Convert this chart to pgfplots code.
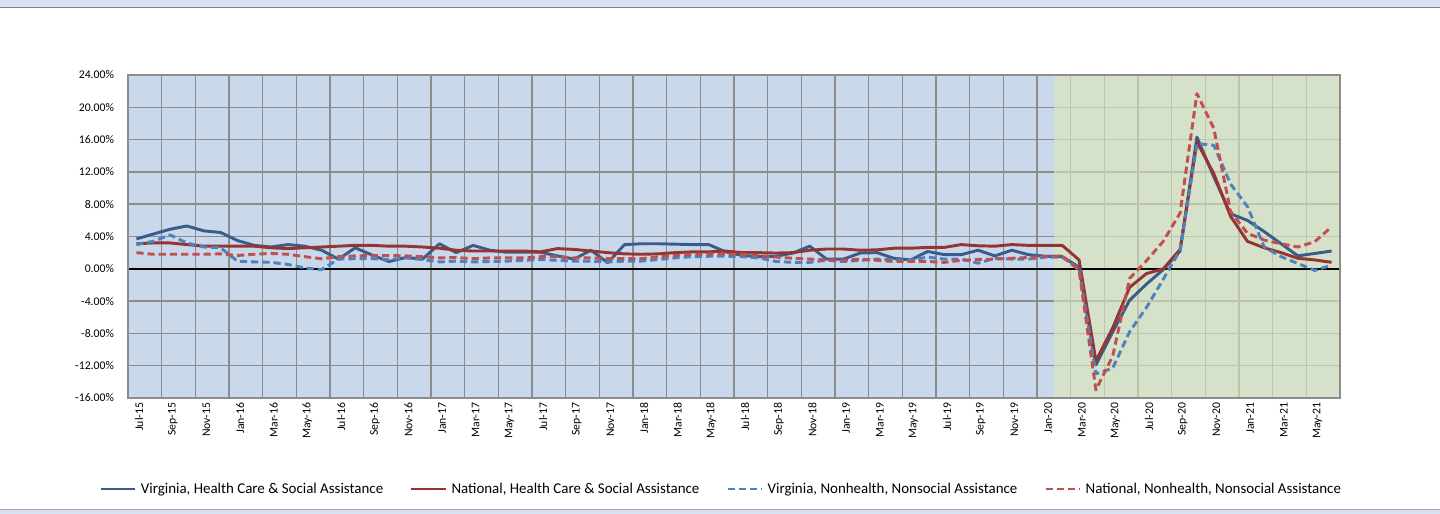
\documentclass[border=0pt]{standalone}
\usepackage{pgfplots}
\pgfplotsset{compat=1.18}
\usepackage{pgfplotstable}
\usepackage{fontspec}
\setmainfont{Carlito}
\definecolor{bgblue}{RGB}{202,216,235}
\definecolor{bggreen}{RGB}{214,225,201}
\definecolor{gridgray}{RGB}{140,140,140}
\definecolor{gridgreen}{RGB}{188,196,170}
\definecolor{vahc}{RGB}{56,93,138}
\definecolor{nathc}{RGB}{150,52,50}
\definecolor{vanh}{RGB}{79,129,189}
\definecolor{natnh}{RGB}{192,80,77}
\definecolor{topstrip}{RGB}{214,226,240}
\definecolor{stripline}{RGB}{130,130,140}

\pgfplotstableread{
k vahc nathc vanh natnh
0 3.7 3.1 3.0 2.0
1 4.3 3.2 3.4 1.8
2 4.9 3.2 4.2 1.8
3 5.3 3.0 3.2 1.8
4 4.7 2.8 2.7 1.8
5 4.5 2.8 2.6 1.85
6 3.5 2.8 0.95 1.65
7 2.9 2.8 0.85 1.8
8 2.7 2.6 0.8 1.9
9 3.0 2.5 0.55 1.8
10 2.8 2.6 0.1 1.5
11 2.3 2.7 -0.1 1.25
12 1.2 2.8 1.2 1.5
13 2.6 2.9 1.25 1.6
14 1.7 2.9 1.25 1.65
15 0.9 2.8 1.15 1.65
16 1.4 2.8 1.35 1.6
17 1.2 2.7 1.15 1.5
18 3.1 2.55 0.85 1.35
19 2.0 2.3 0.95 1.4
20 2.9 2.2 0.85 1.25
21 2.3 2.2 0.9 1.35
22 2.05 2.2 0.95 1.35
23 2.05 2.2 1.05 1.35
24 2.05 2.1 1.15 1.5
25 1.6 2.5 1.05 1.5
26 1.2 2.4 0.95 1.35
27 2.3 2.2 0.95 1.35
28 0.75 2.0 0.85 1.25
29 3.0 1.85 0.95 1.25
30 3.1 1.8 0.95 1.25
31 3.1 1.85 1.15 1.5
32 3.05 2.0 1.35 1.65
33 3.0 2.1 1.5 1.8
34 3.0 2.1 1.55 1.85
35 2.1 2.2 1.55 1.8
36 1.65 2.0 1.5 1.8
37 1.5 2.0 1.35 1.65
38 1.55 1.95 0.9 1.45
39 1.95 2.0 0.8 1.3
40 2.8 2.3 0.8 1.2
41 1.2 2.45 1.05 1.1
42 1.2 2.45 0.9 1.05
43 1.95 2.3 1.05 1.2
44 2.0 2.35 1.2 1.05
45 1.3 2.55 1.1 0.9
46 1.1 2.55 1.05 0.9
47 2.15 2.65 1.45 0.9
48 1.75 2.65 1.2 0.8
49 1.75 3.0 1.2 1.05
50 2.3 2.85 0.7 1.15
51 1.6 2.8 1.3 1.2
52 2.3 3.0 1.2 1.3
53 1.75 2.9 1.2 1.4
54 1.55 2.9 1.45 1.55
55 1.5 2.9 1.45 1.6
56 0.2 1.1 0.0 -0.2
57 -11.9 -11.4 -13.0 -15.0
58 -7.8 -7.3 -12.3 -10.8
59 -3.9 -2.3 -7.8 -1.2
60 -1.9 -0.6 -4.8 1.0
61 -0.1 0.0 -1.3 3.4
62 2.2 2.4 2.3 6.9
63 16.3 15.7 15.5 21.7
64 11.4 11.8 15.3 17.4
65 6.8 6.5 10.5 7.1
66 6.0 3.4 7.7 4.4
67 4.6 2.6 2.7 3.55
68 3.1 2.0 1.5 3.1
69 1.6 1.3 0.66 2.7
70 1.9 1.1 -0.2 3.35
71 2.2 0.8 0.45 5.2
}\datatable

\begin{document}
\begin{tikzpicture}
\useasboundingbox (0pt,0pt) rectangle (1080pt,385.5pt);
\fill[topstrip] (0pt,380.25pt) rectangle (1080pt,385.5pt);
\draw[stripline, line width=1.2pt] (0pt,379.9pt) -- (1080pt,379.9pt);
\fill[topstrip] (0pt,0pt) rectangle (1080pt,3pt);
\draw[stripline!70, line width=1pt] (0pt,3.4pt) -- (1080pt,3.4pt);
\begin{axis}[
  at={(96pt,87pt)}, anchor=south west,
  scale only axis, width=909pt, height=242.25pt,
  xmin=-0.5, xmax=71.5, ymin=-16, ymax=24,
  xtick={0,2,...,70},
  xticklabels={Jul-15,Sep-15,Nov-15,Jan-16,Mar-16,May-16,Jul-16,Sep-16,Nov-16,Jan-17,Mar-17,May-17,Jul-17,Sep-17,Nov-17,Jan-18,Mar-18,May-18,Jul-18,Sep-18,Nov-18,Jan-19,Mar-19,May-19,Jul-19,Sep-19,Nov-19,Jan-20,Mar-20,May-20,Jul-20,Sep-20,Nov-20,Jan-21,Mar-21,May-21},
  ytick={-16,-12,...,24},
  major tick length=0pt,
  axis on top,
  axis line style={gridgray, line width=1pt},
  /pgf/number format/assume math mode=true,
  yticklabel={\pgfmathprintnumber[fixed,fixed zerofill,precision=2]{\tick}\%},
  ticklabel style={font=\fontsize{8.8}{10}\selectfont, text=black},
  xticklabel style={rotate=90, anchor=east, yshift=-2pt},
  yticklabel style={xshift=-7pt},
  legend columns=4,
  legend style={at={(0.4897,-0.2817)}, anchor=center, draw=none, fill=none,
    font=\fontsize{11.2}{13}\selectfont,
    /tikz/every odd column/.append style={column sep=1pt},
    /tikz/every even column/.append style={column sep=18pt}},
  legend image code/.code={\draw[#1] (0pt,0pt) -- (26pt,0pt);},
]
\addplot[fill=bgblue, draw=none, forget plot] coordinates {(-0.5,-16) (54.5,-16) (54.5,24) (-0.5,24)} -- cycle;
\addplot[fill=bggreen, draw=none, forget plot] coordinates {(54.5,-16) (71.5,-16) (71.5,24) (54.5,24)} -- cycle;
\pgfplotsinvokeforeach{1.5,3.5,5.5,7.5,9.5,11.5,13.5,15.5,17.5,19.5,21.5,23.5,25.5,27.5,29.5,31.5,33.5,35.5,37.5,39.5,41.5,43.5,45.5,47.5,49.5,51.5,53.5}{
  \draw[gridgray, line width=1.1pt] (axis cs:#1,-16) -- (axis cs:#1,24);
}
\pgfplotsinvokeforeach{55.5,57.5,59.5,61.5,63.5,65.5,67.5,69.5}{
  \draw[gridgreen, line width=1.1pt] (axis cs:#1,-16) -- (axis cs:#1,24);
}
\pgfplotsinvokeforeach{-12,-8,-4,4,8,12,16,20}{
  \draw[gridgray, line width=1.1pt] (axis cs:-0.5,#1) -- (axis cs:54.5,#1);
  \draw[gridgreen, line width=1.1pt] (axis cs:54.5,#1) -- (axis cs:71.5,#1);
}
\draw[black, line width=1.4pt] (axis cs:-0.5,0) -- (axis cs:71.5,0);
\addplot[vahc, line width=2.2pt, line join=round] table[x=k,y=vahc]{\datatable};
\addlegendentry{Virginia, Health Care \& Social Assistance}
\addplot[nathc, line width=2.2pt, line join=round] table[x=k,y=nathc]{\datatable};
\addlegendentry{National, Health Care \& Social Assistance}
\addplot[vanh, line width=2.2pt, line join=round, dash pattern=on 5.4pt off 3pt] table[x=k,y=vanh]{\datatable};
\addlegendentry{Virginia, Nonhealth, Nonsocial Assistance}
\addplot[natnh, line width=2.2pt, line join=round, dash pattern=on 5.4pt off 3pt] table[x=k,y=natnh]{\datatable};
\addlegendentry{National, Nonhealth, Nonsocial Assistance}
\end{axis}
\end{tikzpicture}
\end{document}
